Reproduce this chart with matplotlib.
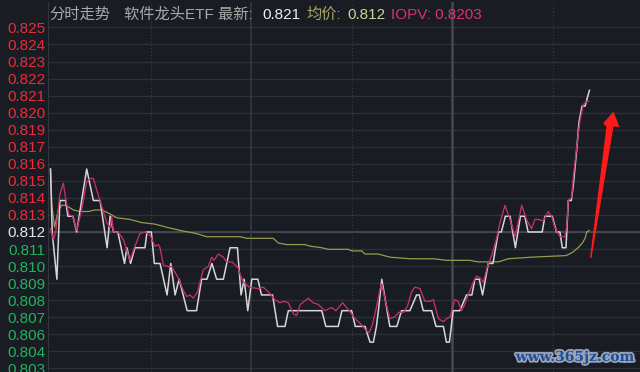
import matplotlib.pyplot as plt
import matplotlib.patheffects as pe
from matplotlib.patches import Polygon

plt.rcParams['font.family'] = ['Liberation Sans', 'Noto Sans CJK SC']

# minutes since 9:30 (afternoon continues after minute 120)
price_t = [0, 0.5, 1.9, 2.8, 4.5, 5.2, 6.7, 7.8, 10.8, 12.8, 14.8, 16.9, 17.8, 18.8,
           20.1, 22.1, 22.8, 23.9, 25.2, 28.2, 28.8, 30.1, 31.0, 32.7, 34.8, 35.9,
           37.2, 38.4, 39.6, 40.8, 43.6, 45.1, 46.7, 48.2, 49.6, 51.6, 53.6, 55.8,
           56.9, 57.8, 58.9, 60.1, 61.9, 63.0, 66.3, 67.8, 70.0, 71.0, 81.0, 82.2,
           85.9, 87.0, 89.9, 91.0, 93.9, 95.4, 96.4, 97.3, 97.9, 98.9, 101.3, 103.4,
           104.8, 107.3, 109.3, 110.1, 111.3, 113.8, 115.1, 117.3, 118.2, 119.1,
           120.2, 122.2, 124.2, 125.8, 126.7, 128.0, 129.0, 130.7, 132.1, 133.7,
           134.6, 135.8, 137.2, 138.8, 140.3, 141.6, 142.6, 146.8, 147.6, 149.8,
           151.1, 152.1, 152.8, 153.9, 154.6, 155.5, 156.1, 157.0, 157.8, 158.7,
           159.6, 160.9]
price_v = [0.816, 0.812, 0.809, 0.814, 0.814, 0.813, 0.813, 0.812, 0.816, 0.814, 0.814,
           0.811, 0.813, 0.812, 0.812, 0.810, 0.811, 0.810, 0.811, 0.811, 0.812, 0.812,
           0.810, 0.810, 0.808, 0.810, 0.808, 0.809, 0.808, 0.807, 0.807, 0.809, 0.809,
           0.810, 0.809, 0.809, 0.811, 0.811, 0.808, 0.809, 0.807, 0.809, 0.809, 0.808,
           0.808, 0.806, 0.806, 0.807, 0.807, 0.806, 0.806, 0.807, 0.807, 0.806, 0.806,
           0.805, 0.805, 0.806, 0.807, 0.809, 0.806, 0.806, 0.807, 0.807, 0.808, 0.808,
           0.807, 0.807, 0.806, 0.806, 0.805, 0.805, 0.807, 0.807, 0.808, 0.808, 0.809,
           0.809, 0.808, 0.810, 0.810, 0.812, 0.812, 0.813, 0.813, 0.811, 0.813, 0.813,
           0.812, 0.812, 0.813, 0.813, 0.812, 0.812, 0.811, 0.811, 0.814, 0.814, 0.815,
           0.817, 0.819, 0.820, 0.820, 0.821]

iopv_t = [0, 0.9, 1.6, 2.8, 3.8, 4.8, 5.5, 6.6, 7.8, 9.3, 10.8, 11.8, 12.8, 13.9, 15.2,
          16.8, 17.8, 18.3, 18.7, 20.2, 21.8, 23.7, 25.4, 26.7, 28.2, 29.7, 31.2, 32.2,
          32.7, 33.7, 35.2, 36.2, 36.7, 38.1, 39.6, 40.7, 41.6, 42.6, 43.9, 45.6, 47.1,
          48.1, 48.8, 50.1, 51.6, 52.6, 54.2, 56.1, 56.6, 57.6, 59.3, 62.0, 63.5, 65.0,
          67.0, 68.5, 69.5, 71.0, 72.5, 73.5, 74.6, 77.0, 78.4, 79.9, 81.9, 83.9, 85.2,
          87.2, 88.4, 89.9, 90.9, 92.9, 94.4, 95.1, 96.1, 97.4, 98.4, 98.9, 99.9, 101.3,
          102.8, 104.0, 105.5, 106.6, 107.8, 108.8, 110.3, 111.8, 113.3, 114.3, 115.8,
          117.3, 118.3, 119.3, 119.9, 120.7, 121.7, 122.7, 123.7, 124.7, 126.2, 127.2,
          128.2, 129.2, 130.3, 131.7, 133.2, 134.2, 135.7, 137.2, 138.7, 140.7, 142.1,
          143.6, 144.6, 145.6, 147.1, 148.6, 149.6, 150.6, 152.1, 153.6, 154.1, 154.6,
          155.6, 156.1, 157.1, 158.1, 159.1, 160.1, 160.7]
iopv_v = [0.8122, 0.8115, 0.8121, 0.8144, 0.8151, 0.8138, 0.8131, 0.8130, 0.8121, 0.8134,
          0.8152, 0.8154, 0.8154, 0.8146, 0.8137, 0.8126, 0.8123, 0.8130, 0.8120, 0.8120,
          0.8115, 0.8102, 0.8112, 0.8119, 0.8120, 0.8118, 0.8111, 0.8112, 0.8110, 0.8099,
          0.8098, 0.8098, 0.8096, 0.8091, 0.8083, 0.8079, 0.8080, 0.8078, 0.8082, 0.8096,
          0.8098, 0.8104, 0.8102, 0.8106, 0.8104, 0.8101, 0.8101, 0.8097, 0.8093, 0.8088,
          0.8085, 0.8084, 0.8085, 0.8082, 0.8077, 0.8075, 0.8076, 0.8075, 0.8068, 0.8067,
          0.8074, 0.8078, 0.8075, 0.8074, 0.8070, 0.8072, 0.8070, 0.8075, 0.8072, 0.8068,
          0.8065, 0.8061, 0.8057, 0.8056, 0.8061, 0.8073, 0.8084, 0.8087, 0.8077, 0.8065,
          0.8066, 0.8069, 0.8069, 0.8073, 0.8082, 0.8085, 0.8084, 0.8076, 0.8076, 0.8077,
          0.8065, 0.8063, 0.8065, 0.8066, 0.8071, 0.8077, 0.8076, 0.8070, 0.8074, 0.8080,
          0.8088, 0.8092, 0.8091, 0.8088, 0.8097, 0.8105, 0.8116, 0.8126, 0.8137, 0.8128,
          0.8117, 0.8137, 0.8128, 0.8122, 0.8128, 0.8128, 0.8127, 0.8133, 0.8130, 0.8123,
          0.8117, 0.8117, 0.8123, 0.8140, 0.8142, 0.8155, 0.8174, 0.8191, 0.8201, 0.8203,
          0.8203]

avg_t = [0, 0.4, 1.2, 2.3, 3.4, 4.6, 6.8, 8.8, 11.3, 13.3, 15.3, 17.3, 19.8, 23.7, 27.2,
         31.2, 34.7, 38.7, 43.6, 46.6, 56.6, 58.6, 66.5, 68.0, 70.5, 76.0, 77.5, 81.0,
         82.9, 88.9, 89.9, 92.9, 93.9, 95.4, 97.9, 101.3, 107.3, 114.3, 118.3, 125.2,
         127.7, 133.7, 136.7, 143.6, 153.9, 155.8, 157.5, 158.8, 159.6, 160.1, 160.8]
avg_v = [0.8160, 0.8137, 0.8123, 0.8134, 0.8137, 0.8137, 0.8134, 0.8133, 0.8133, 0.8134,
         0.8134, 0.8132, 0.8129, 0.8128, 0.8126, 0.8125, 0.8123, 0.8121, 0.8119, 0.8117,
         0.8117, 0.8116, 0.8116, 0.8113, 0.8112, 0.8112, 0.8111, 0.8110, 0.8109, 0.8109,
         0.8108, 0.8108, 0.8106, 0.8106, 0.8106, 0.8104, 0.8103, 0.8103, 0.8102, 0.8102,
         0.8101, 0.8101, 0.8103, 0.8104, 0.8105, 0.8107, 0.8110, 0.8113, 0.8116, 0.8120,
         0.8121]

prev_close = 0.812
tick_step = 0.013 / 12
tick_labels = ['0.803', '0.804', '0.806', '0.807', '0.808', '0.809', '0.810', '0.811',
               '0.812', '0.813', '0.814', '0.815', '0.816', '0.817', '0.819', '0.820',
               '0.821', '0.822', '0.823', '0.824', '0.825']
tick_k = list(range(-8, 13))

bg = '#191c22'
fig = plt.figure(figsize=(6.4, 3.72), dpi=100, facecolor=bg)
ax = fig.add_axes([48 / 640, 0, 1 - 48 / 640, 370 / 372])
ax.set_facecolor(bg)

ax.set_xlim(-0.75, 176.0)
ax.set_ylim(0.803104, 0.826614)

ticks = [prev_close + k * tick_step for k in tick_k]
ax.set_yticks(ticks)
ax.set_yticklabels(tick_labels)
ax.set_xticks([])
ax.tick_params(axis='y', length=0, pad=2, labelsize=11)
for lab, k in zip(ax.get_yticklabels(), tick_k):
    if k > 0:
        lab.set_color('#ee2a3c')
    elif k < 0:
        lab.set_color('#22b35e')
    else:
        lab.set_color('#e4e4e4')

for t in ticks:
    ax.axhline(t, color='#2d3037', lw=1.0, zorder=1)
ax.axhline(prev_close, color='#4a4d54', lw=1.2, zorder=1)

for m in [30, 90, 150]:
    ax.axvline(m, color='#3a3d44', lw=0.8, ls=(0, (1, 2)), zorder=1)
ax.axvline(60, color='#34373e', lw=1.2, zorder=1)
ax.axvline(120, color='#44474e', lw=1.8, zorder=1)

for s in ['top', 'right', 'bottom']:
    ax.spines[s].set_visible(False)
ax.spines['left'].set_color('#33363d')

ax.plot(avg_t, avg_v, color='#9a9a4e', lw=0.9, zorder=3)
ax.plot(price_t, price_v, color='#d6d6d6', lw=1.1, zorder=4)
ax.plot(iopv_t, iopv_v, color='#c4306c', lw=0.95, zorder=5)

# header
ty = 1 - 15 / 372
fig.text(49 / 640, ty, '分时走势', color='#a9a9a9', fontsize=11, va='center')
fig.text(124 / 640, ty, '软件龙头ETF 最新:', color='#a9a9a9', fontsize=11, va='center')
fig.text(262 / 640, ty, '0.821', color='#eeeeee', fontsize=11, va='center')
fig.text(306 / 640, ty, '均价:', color='#a8a866', fontsize=11, va='center')
fig.text(347 / 640, ty, '0.812', color='#cfd49a', fontsize=11, va='center')
fig.text(391 / 640, ty, 'IOPV: 0.8203', color='#dc3372', fontsize=11, va='center')

# red arrow
arrow_px = [(590, 258), (606.5, 126.5), (603, 123.5), (613.5, 111.5), (619.5, 127),
            (613.5, 126.5), (591.5, 258)]
fig.add_artist(Polygon([(x / 640, 1 - y / 372) for x, y in arrow_px],
                       closed=True, transform=fig.transFigure,
                       facecolor='#ff1a1a', edgecolor='none', zorder=10))

# watermark
fig.text(575 / 640, 1 - 357 / 372, 'www.365jz.com', color='#1f4f98', fontsize=10,
         family='DejaVu Serif', weight='bold', ha='center', va='center',
         path_effects=[pe.withStroke(linewidth=2.5, foreground='#9aa4b4')])

fig.savefig('out.png', dpi=100, facecolor=bg)
